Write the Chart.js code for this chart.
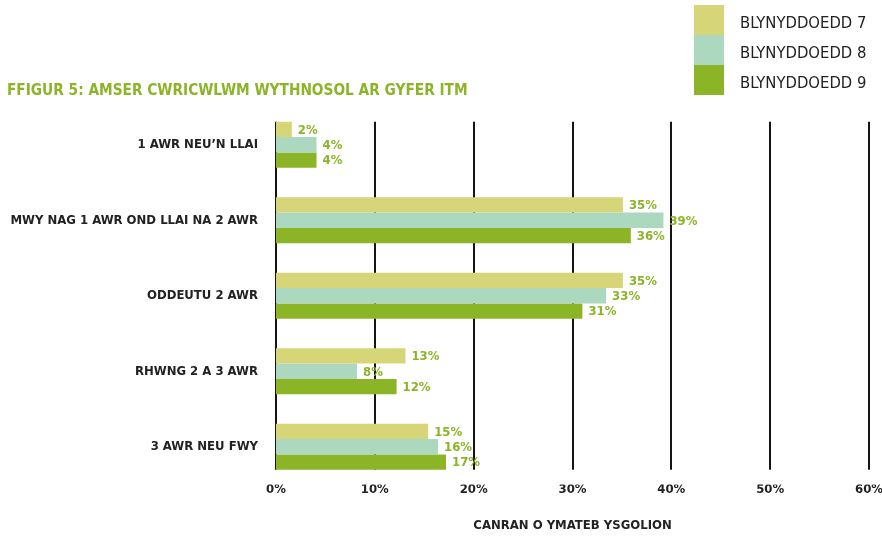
<!DOCTYPE html>
<html><head><meta charset="utf-8">
<script src="https://cdn.jsdelivr.net/npm/chart.js@4"></script>
<style>html,body{margin:0;padding:0;background:#fff}canvas{display:block}</style>
</head><body>
<canvas id="c" width="882" height="537"></canvas>
<script>
const chartTitle = 'FFIGUR 5: AMSER CWRICWLWM WYTHNOSOL AR GYFER ITM';
const axisTitle = 'CANRAN O YMATEB YSGOLION';
const categories = ['1 AWR NEU\u2019N LLAI', 'MWY NAG 1 AWR OND LLAI NA 2 AWR', 'ODDEUTU 2 AWR', 'RHWNG 2 A 3 AWR', '3 AWR NEU FWY'];
const seriesLabels = ['BLYNYDDOEDD 7', 'BLYNYDDOEDD 8', 'BLYNYDDOEDD 9'];
const year7 = [1.6, 35.1, 35.1, 13.1, 15.4];
const year8 = [4.1, 39.2, 33.4, 8.2, 16.4];
const year9 = [4.1, 35.9, 31.0, 12.2, 17.2];
const xTicks = [0, 10, 20, 30, 40, 50, 60];
const colors = ['#d6d577', '#acd8c0', '#8bb427'];

const FONT = '"DejaVu Sans Condensed", "Liberation Sans Narrow", sans-serif';
const TFONT = '"Liberation Sans Narrow", "DejaVu Sans Condensed", sans-serif';
const GREEN = '#8bb427';
const DARK = '#222222';

const decor = {
  id: 'decor',
  beforeDraw(chart) {
    const ctx = chart.ctx, xs = chart.scales.x;
    const m0 = chart.getDatasetMeta(0), mL = chart.getDatasetMeta(chart.data.datasets.length - 1);
    const top = m0.data[0].y - m0.data[0].height / 2;
    const last = mL.data[mL.data.length - 1];
    const bottom = last.y + last.height / 2;
    ctx.save();
    ctx.strokeStyle = '#151515';
    ctx.lineWidth = 2;
    xTicks.forEach(v => {
      const x = Math.round(xs.getPixelForValue(v));
      ctx.beginPath(); ctx.moveTo(x, top); ctx.lineTo(x, bottom); ctx.stroke();
    });
    ctx.restore();
  },
  afterDatasetsDraw(chart) {
    const ctx = chart.ctx;
    ctx.save();
    ctx.font = 'bold 13px ' + FONT;
    ctx.fillStyle = GREEN;
    ctx.textAlign = 'left';
    ctx.textBaseline = 'middle';
    chart.data.datasets.forEach((ds, i) => {
      chart.getDatasetMeta(i).data.forEach((el, j) => {
        ctx.fillText(Math.round(ds.data[j]) + '%', el.x + 6, el.y + 1);
      });
    });
    // title
    ctx.font = 'bold 100px ' + TFONT;
    const w = ctx.measureText(chartTitle).width;
    const size = Math.min(18, 100 * 461 / w);
    ctx.font = 'bold ' + size.toFixed(2) + 'px ' + TFONT;
    ctx.textBaseline = 'alphabetic';
    ctx.fillText(chartTitle, 7, 95);
    // legend
    const base = [28, 58, 87.5];
    chart.data.datasets.forEach((ds, i) => {
      ctx.fillStyle = ds.backgroundColor;
      ctx.fillRect(694, 5 + 30 * i, 30, 30);
      ctx.fillStyle = DARK;
      ctx.font = '16.5px ' + FONT;
      ctx.fillText(ds.label, 740, base[i]);
    });
    ctx.restore();
  }
};

new Chart(document.getElementById('c'), {
  type: 'bar',
  data: {
    labels: categories,
    datasets: [
      { label: seriesLabels[0], data: year7, backgroundColor: colors[0] },
      { label: seriesLabels[1], data: year8, backgroundColor: colors[1] },
      { label: seriesLabels[2], data: year9, backgroundColor: colors[2] }
    ]
  },
  options: {
    indexAxis: 'y',
    responsive: false,
    animation: false,
    layout: { padding: { top: 107, right: 13, left: 0, bottom: 0 } },
    datasets: { bar: { categoryPercentage: 0.61, barPercentage: 1.0 } },
    plugins: { legend: { display: false }, tooltip: { enabled: false } },
    scales: {
      x: {
        min: 0, max: 60,
        grid: { display: false }, border: { display: false },
        afterBuildTicks(s) { s.ticks = xTicks.map(v => ({ value: v })); },
        afterFit(s) { s.height = 52.5; },
        ticks: { padding: -11, color: DARK, font: { family: FONT, size: 13, weight: 'bold' }, callback: v => v + '%' },
        title: { display: true, text: axisTitle, color: DARK, font: { family: FONT, size: 13, weight: 'bold' }, padding: { top: 0, bottom: 4 } }
      },
      y: {
        grid: { display: false }, border: { display: false },
        afterFit(s) { s.width = 276; },
        ticks: { padding: 10, color: DARK, font: { family: FONT, size: 13, weight: 'bold' } }
      }
    }
  },
  plugins: [decor]
});
</script>
</body></html>
